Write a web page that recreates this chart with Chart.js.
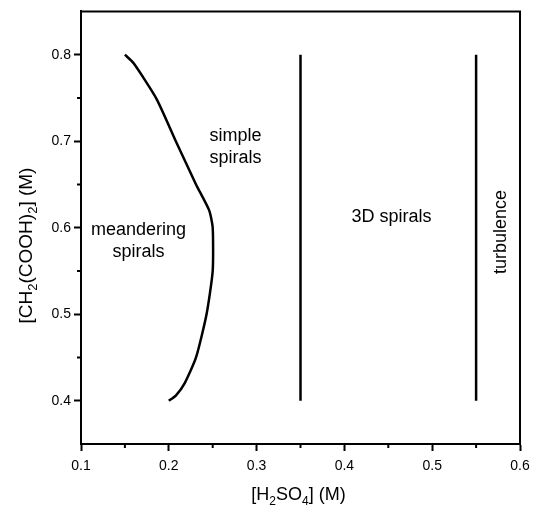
<!DOCTYPE html>
<html>
<head>
<meta charset="utf-8">
<script src="https://cdn.jsdelivr.net/npm/chart.js@4"></script>
<style>
html,body{margin:0;padding:0;background:#fff;}
#c{display:block;}
</style>
</head>
<body>
<canvas id="c" width="537" height="512"></canvas>
<script>
// ---- data ----
const boundaryX = [0.150,0.160,0.186,0.208,0.231,0.246,0.250,0.250,0.243,0.231,0.218,0.208,0.200];
const boundaryY = [0.800,0.790,0.749,0.700,0.650,0.620,0.600,0.550,0.500,0.450,0.420,0.406,0.400];
const line3DX = [0.35,0.35];
const line3DY = [0.40,0.80];
const lineTurbX = [0.55,0.55];
const lineTurbY = [0.40,0.80];
const xMinorTicks = [0.15,0.25,0.35,0.45,0.55];
const yMinorTicks = [0.45,0.55,0.65,0.75];
const regionLabels = [
  {lines:['simple','spirals'], x:0.276, y:0.693, rot:false},
  {lines:['meandering','spirals'], x:0.1655, y:0.585, rot:false},
  {lines:['3D spirals'], x:0.4537, y:0.612, rot:false},
  {lines:['turbulence'], x:0.578, y:0.595, rot:true}
];
const xTitleParts = [{t:'[H'},{t:'2',sub:true},{t:'SO'},{t:'4',sub:true},{t:'] (M)'}];
const yTitleParts = [{t:'[CH'},{t:'2',sub:true},{t:'(COOH)'},{t:'2',sub:true},{t:'] (M)'}];

const FONT = '"Liberation Sans", Arial, Helvetica, sans-serif';
const toPts = (xs, ys) => xs.map((x,i)=>({x:x, y:ys[i]}));
const isMajor = v => Math.abs(Math.round(v*100)) % 10 === 0;

function drawRich(ctx, parts, size){
  const subSize = Math.round(size*0.68);
  let w = 0;
  parts.forEach(p=>{
    ctx.font = (p.sub?subSize:size)+'px '+FONT;
    p.w = ctx.measureText(p.t).width;
    w += p.w;
  });
  let x = -w/2;
  ctx.textBaseline = 'middle';
  ctx.textAlign = 'left';
  parts.forEach(p=>{
    ctx.font = (p.sub?subSize:size)+'px '+FONT;
    ctx.fillText(p.t, x, p.sub ? size*0.36 : 0);
    x += p.w;
  });
}

const decor = {
  id:'decor',
  afterDraw(chart){
    const ctx = chart.ctx;
    const a = chart.chartArea;
    const xs = chart.scales.x, ys = chart.scales.y;
    ctx.save();
    ctx.strokeStyle = '#000';
    ctx.lineWidth = 2;
    // top and right frame
    ctx.beginPath();
    ctx.moveTo(a.left, a.top); ctx.lineTo(a.right, a.top); ctx.lineTo(a.right, a.bottom);
    ctx.stroke();
    // minor ticks
    ctx.beginPath();
    xMinorTicks.forEach(v=>{
      const px = xs.getPixelForValue(v);
      ctx.moveTo(px, a.bottom); ctx.lineTo(px, a.bottom+4);
    });
    yMinorTicks.forEach(v=>{
      const py = ys.getPixelForValue(v);
      ctx.moveTo(a.left, py); ctx.lineTo(a.left-4, py);
    });
    ctx.stroke();
    // region labels
    ctx.fillStyle = '#000';
    ctx.font = '18px '+FONT;
    ctx.textAlign = 'center';
    ctx.textBaseline = 'middle';
    regionLabels.forEach(r=>{
      const px = xs.getPixelForValue(r.x), py = ys.getPixelForValue(r.y);
      ctx.save();
      ctx.translate(px, py);
      if (r.rot) ctx.rotate(-Math.PI/2);
      const lh = 22;
      r.lines.forEach((s,i)=>{
        ctx.fillText(s, 0, (i-(r.lines.length-1)/2)*lh);
      });
      ctx.restore();
    });
    // axis titles
    ctx.save();
    ctx.translate(298.5, 495);
    drawRich(ctx, xTitleParts, 18);
    ctx.restore();
    ctx.save();
    ctx.translate(27, 245.5);
    ctx.rotate(-Math.PI/2);
    drawRich(ctx, yTitleParts, 19);
    ctx.restore();
    ctx.restore();
  }
};

const lineStyle = {borderColor:'#000', borderWidth:2.5, pointRadius:0, showLine:true, fill:false};

new Chart(document.getElementById('c'), {
  type:'scatter',
  data:{
    datasets:[
      Object.assign({data:toPts(boundaryX, boundaryY), tension:0.2}, lineStyle),
      Object.assign({data:toPts(line3DX, line3DY), tension:0}, lineStyle),
      Object.assign({data:toPts(lineTurbX, lineTurbY), tension:0}, lineStyle)
    ]
  },
  options:{
    responsive:false,
    animation:false,
    devicePixelRatio:1,
    layout:{padding:{left:0, right:17, top:8, bottom:0}},
    plugins:{legend:{display:false}, tooltip:{enabled:false}},
    scales:{
      x:{
        type:'linear', min:0.1, max:0.6,
        afterFit(s){ s.height = 68; },
        ticks:{
          stepSize:0.05, autoSkip:false, maxRotation:0, padding:7,
          color:'#000', font:{size:14, family:FONT},
          callback:v => isMajor(v) ? v.toFixed(1) : ''
        },
        grid:{drawOnChartArea:false, tickLength:7, tickWidth:2,
          tickColor:c => isMajor(c.tick.value) ? '#000' : 'rgba(0,0,0,0)'},
        border:{color:'#000', width:2}
      },
      y:{
        type:'linear', min:0.35, max:0.85,
        afterFit(s){ s.width = 81; },
        ticks:{
          stepSize:0.05, autoSkip:false, padding:3,
          color:'#000', font:{size:14, family:FONT},
          callback:v => isMajor(v) ? v.toFixed(1) : ''
        },
        grid:{drawOnChartArea:false, tickLength:7, tickWidth:2,
          tickColor:c => isMajor(c.tick.value) ? '#000' : 'rgba(0,0,0,0)'},
        border:{color:'#000', width:2}
      }
    }
  },
  plugins:[decor]
});
</script>
</body>
</html>
